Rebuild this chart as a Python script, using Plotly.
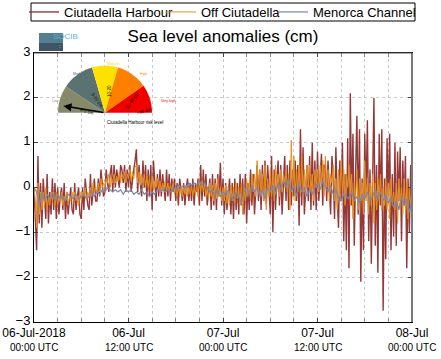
import math
import pandas as pd
import plotly.graph_objects as go

# ---------------- data (cm) ----------------
start = "2018-07-06 00:00"

# Ciutadella Harbour, 10-min samples, 06-Jul 00:00 -> 08-Jul 00:00
harbour = [
    0.0, -0.6, -1.4, 0.7, -0.8, 0.1,
    -0.9, 0.2, -0.3, -0.7, 0.3, -0.8,
    -0.1, -0.6, 0.2, -0.5, 0.1, -0.7,
    0.0, -0.6, -0.2, 0.0, -0.5, 0.1,
    -0.7, -0.1, -0.6, -0.3, 0.0, -0.5,
    -0.6, 0.1, -0.5, -0.2, 0.0, -0.6,
    -0.7, 0.0, -0.5, 0.2, -0.1, -0.4,
    -0.5, 0.3, -0.4, 0.0, 0.2, -0.3,
    -0.3, 0.2, -0.2, 0.4, 0.0, -0.2,
    -0.1, 0.4, 0.1, -0.1, 0.3, 0.5,
    -0.1, 0.5, 0.0, 0.4, 0.2, 0.0,
    0.5, 0.4, 0.1, 0.5, -0.1, 0.4,
    0.0, 0.5, -0.1, 0.2, 0.4, 0.6,
    0.85, -0.1, 0.5, 0.1, -0.2, 0.6,
    0.0, 0.5, -0.3, 0.4, -0.2, 0.5,
    -0.5, 0.6, 0.0, -0.3, 0.3, -0.2,
    0.4, -0.2, 0.3, 0.0, -0.3, 0.4,
    -0.2, 0.3, -0.3, 0.2, -0.1, 0.2,
    -0.3, 0.1, -0.4, 0.2, -0.1, -0.3,
    0.1, -0.4, 0.0, 0.2, -0.3, 0.1,
    -0.3, 0.2, -0.4, 0.1, -0.1, 0.2,
    -0.4, 0.5, -0.3, 0.4, -0.2, 0.3,
    -0.4, 0.0, 0.2, -0.5, 0.3, -0.4,
    0.2, -0.5, 0.3, -0.2, 0.55, -0.4,
    0.2, -0.6, 0.1, -0.5, -0.1, 0.2,
    -0.6, 0.1, -0.7, 0.2, -0.5, 0.1,
    -0.6, 0.3, -0.4, 0.2, -0.6, 0.3,
    -0.8, 0.1, -0.5, 0.4, -0.4, 0.3,
    -0.6, 0.0, 0.5, -0.3, 0.4, -0.5,
    0.5, -0.3, 0.6, -0.4, 0.5, 0.0,
    -0.6, 0.7, -1.0, 0.4, -0.5, 0.2,
    0.6, -0.4, 0.5, -0.6, 0.1, 0.7,
    -0.3, 0.5, -0.5, 0.6, -0.4, 0.4,
    -0.2, 0.6, -0.3, 0.5, -0.85, 1.3,
    -0.4, 0.9, -0.6, 0.1, 0.5, -0.3,
    0.7, -0.5, 1.0, -0.4, 0.6, -0.5,
    0.8, -0.3, 0.2, 0.75, -0.4, 0.5,
    0.5, -0.3, 0.6, 0.1, -0.6, 0.7,
    0.2, -0.7, 0.9, -0.2, -0.9, 0.6,
    -0.3, 1.0, -1.2, 0.3, -1.4, 1.1,
    -1.8, 2.1, -0.4, 1.2, -1.3, 0.3,
    1.6, -0.6, 1.3, -2.1, 0.2, -1.4,
    1.2, -0.2, 1.5, -1.2, 0.4, -1.7,
    0.6, 2.0, -1.3, 0.5, -1.9, 1.2,
    -0.4, 1.3, -2.75, 0.2, -1.6, 1.1,
    -0.2, 1.2, -1.4, 0.3, -1.1, 1.0,
    -1.3, 0.8, -0.3, 0.9, -1.2, 0.6,
    -0.4, 0.7, -1.8, 0.2, -1.0, 0.5,
    -0.6, 0.6, -0.2, 0.8, -1.3, 0.4,
    0.3,
]

# Off Ciutadella, 10-min samples
offshore = [
    0.0, -0.3, -0.9, 0.1, -0.6, -0.1,
    -0.5, -0.1, -0.4, 0.0, -0.5, -0.2,
    -0.4, -0.1, -0.3, -0.1, -0.4, -0.1,
    -0.4, -0.2, -0.3, -0.1, -0.4, -0.2,
    -0.3, -0.1, -0.4, -0.2, -0.3, -0.1,
    -0.3, -0.1, -0.3, -0.2, -0.4, -0.1,
    -0.3, -0.1, -0.2, 0.0, -0.3, -0.1,
    -0.2, 0.0, -0.2, 0.1, -0.1, 0.0,
    -0.1, 0.1, -0.1, 0.2, 0.0, 0.1,
    0.0, 0.2, 0.1, 0.3, 0.0, 0.2,
    0.1, 0.3, 0.1, 0.25, 0.15, 0.35,
    0.1, 0.3, 0.2, 0.35, 0.1, 0.3,
    0.2, 0.4, 0.15, 0.35, 0.2, 0.45,
    0.5, 0.1, 0.35, 0.05, 0.3, 0.1,
    0.3, 0.0, 0.25, 0.0, 0.2, -0.1,
    0.25, -0.05, 0.15, 0.0, 0.2, -0.05,
    0.15, -0.1, 0.1, 0.0, 0.15, -0.1,
    0.1, -0.1, 0.05, -0.05, 0.1, -0.15,
    0.0, -0.2, 0.05, -0.15, 0.0, -0.2,
    0.0, -0.15, 0.05, -0.2, 0.0, -0.15,
    0.05, -0.2, 0.0, -0.15, 0.05, -0.2,
    0.2, -0.1, 0.15, -0.1, 0.1, -0.2,
    0.0, -0.25, 0.1, -0.2, 0.05, -0.3,
    0.1, -0.25, 0.2, -0.2, 0.0, -0.3,
    0.0, -0.3, 0.05, -0.35, 0.0, -0.4,
    0.05, -0.3, 0.0, -0.35, 0.1, -0.25,
    0.0, -0.4, 0.1, -0.6, 0.0, -0.3,
    0.2, -0.2, 0.1, -0.3, 0.3, -0.1,
    0.3, -0.2, 0.6, -0.1, 0.4, -0.2,
    0.3, -0.3, 0.5, -0.5, 0.2, -0.2,
    0.4, -0.2, 0.3, -0.3, 0.5, -0.1,
    0.3, -0.2, 0.4, -0.1, 0.3, 0.0,
    0.4, -0.1, 0.3, -0.5, 1.05, -0.2,
    0.7, -0.3, 0.4, -0.1, 0.5, -0.2,
    0.7, -0.1, 0.4, -0.2, 0.5, 0.0,
    0.5, -0.1, 0.3, -0.3, 0.4, 0.0,
    0.4, -0.1, 0.5, 0.1, 0.6, -0.2,
    0.7, 0.0, 0.4, -0.3, 0.3, 0.1,
    0.5, -0.3, 0.2, -0.5, 0.4, -0.2,
    0.6, -0.1, 0.4, -0.4, 0.3, 0.0,
    0.5, -0.4, 0.3, -0.7, 0.1, -0.3,
    0.4, -0.5, 0.2, -0.3, 0.1, -0.6,
    0.6, -0.3, 0.2, -0.6, 0.1, -0.4,
    0.3, -0.8, 0.1, -0.5, 0.2, -0.3,
    0.3, -0.5, 0.0, -0.4, 0.2, -0.5,
    0.1, -0.7, 0.2, -0.4, -0.1, -0.5,
    0.1, -0.8, 0.2, -0.4, 0.0, -0.6,
    0.2, -0.5, 0.1, -0.7, 0.0, -0.4,
    -0.2,
]

# Menorca Channel, 20-min samples
channel = [
    0.0, -0.1, -0.4,
    -0.1, -0.3, -0.15,
    -0.25, -0.1, -0.3,
    -0.15, -0.25, -0.2,
    -0.3, -0.15, -0.2,
    -0.25, -0.15, -0.25,
    -0.2, -0.15, -0.25,
    -0.2, -0.1, -0.2,
    -0.1, -0.15, -0.05,
    -0.1, 0.0, -0.05,
    -0.1, -0.05, -0.1,
    -0.05, -0.15, -0.05,
    -0.1, -0.05, -0.15,
    -0.1, -0.15, -0.05,
    -0.15, -0.1, -0.2,
    -0.1, -0.15, -0.05,
    -0.1, -0.05, -0.1,
    -0.05, -0.1, 0.0,
    -0.05, 0.05, 0.0,
    0.05, 0.0, 0.1,
    0.05, 0.1, 0.05,
    0.15, 0.05, 0.1,
    0.0, -0.1, -0.05,
    -0.15, -0.05, -0.2,
    -0.1, -0.2, -0.05,
    -0.15, -0.3, -0.1,
    -0.2, -0.35, -0.1,
    0.0, -0.15, 0.05,
    -0.1, 0.0, -0.2,
    -0.05, -0.25, 0.0,
    -0.1, 0.05, -0.15,
    0.1, -0.05, 0.15,
    0.0, 0.2, -0.1,
    0.05, -0.2, 0.1,
    -0.1, 0.0, -0.2,
    -0.05, -0.15, 0.0,
    0.1, -0.05, 0.15,
    0.0, -0.1, 0.05,
    -0.15, -0.05, -0.25,
    -0.3, -0.15, -0.2,
    -0.25, -0.1, -0.3,
    -0.2, -0.35, -0.15,
    -0.25, -0.1, -0.3,
    -0.2, -0.05, -0.25,
    -0.1, -0.3, -0.15,
    -0.35, -0.2, -0.45,
    -0.3, -0.5, -0.2,
    -0.4, -0.25, -0.55,
    -0.3,
]

series_names = ["Ciutadella Harbour", "Off Ciutadella", "Menorca Channel"]
series_colors = ["#963838", "#e8901e", "#7d86a8"]

tick_dates = ["2018-07-06 00:00", "2018-07-06 12:00", "2018-07-07 00:00",
              "2018-07-07 12:00", "2018-07-08 00:00"]
tick_main = ["06-Jul-2018", "06-Jul", "07-Jul", "07-Jul", "08-Jul"]
tick_sub = ["00:00 UTC", "12:00 UTC", "00:00 UTC", "12:00 UTC", "00:00 UTC"]

gauge_colors = ["#878a6a", "#5b7272", "#ffe100", "#ff8000", "#f20000"]
gauge_edges = [180, 146, 106, 74, 35, 0]   # degrees
gauge_labels = ["Low", "Moderate", "Medium", "High", "Very high"]
gauge_ranges = ["0-5 cm", "5-10 cm", "10-20", "20-40 cm", ">40 cm"]

# ---------------- figure ----------------
W, H = 441, 359
ML, MR, MT, MB = 34, 29, 53, 37
PW, PH = W - ML - MR, H - MT - MB


def px(x):
    return (x - ML) / PW


def py(y):
    return (H - MB - y) / PH


t_h = pd.date_range(start, periods=len(harbour), freq="10min")
t_o = pd.date_range(start, periods=len(offshore), freq="10min")
t_c = pd.date_range(start, periods=len(channel), freq="20min")

FONT = "Liberation Sans, Arial, sans-serif"

fig = go.Figure()
widths = [1.4, 1.0, 1.2]
legend_ids = ["legend", "legend2", "legend3"]
legend_x = [24, 161, 273]     # left edge of each legend entry, px
for t, v, name, col, w, lid in zip([t_h, t_o, t_c],
                                   [harbour, offshore, channel],
                                   series_names, series_colors, widths,
                                   legend_ids):
    fig.add_trace(go.Scatter(x=t, y=v, mode="lines", name=name,
                             line=dict(color=col, width=w), legend=lid))

legend_layout = {}
for lid, lx in zip(legend_ids, legend_x):
    legend_layout[lid] = dict(
        orientation="h", xref="container", x=lx / W, xanchor="left",
        yref="container", y=1 - 12 / H, yanchor="middle",
        borderwidth=0, bgcolor="rgba(0,0,0,0)",
        font=dict(size=13, family=FONT, color="black"), itemwidth=30)

fig.update_layout(
    width=W, height=H,
    margin=dict(l=ML, r=MR, t=MT, b=MB, autoexpand=False),
    paper_bgcolor="white", plot_bgcolor="white",
    font=dict(family=FONT, color="black", size=12),
    title=dict(text="Sea level anomalies (cm)", x=0.5, xref="paper",
               y=1 - 36 / H, yanchor="middle", yref="container",
               font=dict(size=17, family=FONT, color="black")),
    showlegend=True,
    **legend_layout,
)

fig.update_xaxes(
    range=[tick_dates[0], tick_dates[-1]], automargin=False,
    tickvals=tick_dates, ticktext=tick_main,
    tickfont=dict(size=12, family=FONT),
    ticks="inside", ticklen=4, tickcolor="#444",
    showline=True, linecolor="black", linewidth=1, mirror="ticks",
    showgrid=True, gridcolor="#c8c8c8", griddash="dot", gridwidth=1,
    minor=dict(dtick=3 * 3600 * 1000, ticks="inside", ticklen=4,
               tickcolor="#888", showgrid=True, gridcolor="#c8c8c8",
               griddash="dot"),
    zeroline=False,
)
fig.update_yaxes(
    range=[-3, 3], dtick=1, automargin=False,
    tickfont=dict(size=13, family=FONT), ticklabelshift=-2,
    ticks="inside", ticklen=4, tickcolor="#444",
    showline=True, linecolor="black", linewidth=1, mirror="ticks",
    showgrid=True, gridcolor="#c8c8c8", griddash="dot", gridwidth=1,
    zeroline=False,
)

shapes = []
annotations = []

# legend frame
shapes.append(dict(type="rect", xref="paper", yref="paper",
                   x0=px(31), x1=px(415), y0=py(21), y1=py(3),
                   line=dict(color="black", width=1),
                   fillcolor="rgba(0,0,0,0)", layer="below"))

# right / top borders
shapes.append(dict(type="line", xref="paper", yref="paper", x0=1, x1=1,
                   y0=0, y1=1, line=dict(color="#7a7a7a", width=2)))
shapes.append(dict(type="line", xref="paper", yref="paper", x0=0, x1=1,
                   y0=1, y1=1, line=dict(color="#555", width=1)))

# second line of the x tick labels
for d, s in zip(tick_dates, tick_sub):
    annotations.append(dict(x=d, xref="x", y=py(340.5), yref="paper",
                            text=s, showarrow=False, xanchor="center",
                            yanchor="top", borderpad=0,
                            font=dict(size=10, family=FONT, color="black")))

# SOCIB logo
shapes.append(dict(type="rect", xref="paper", yref="paper",
                   x0=px(39), x1=px(63), y0=py(51), y1=py(33),
                   fillcolor="#557f90", line=dict(width=0)))
shapes.append(dict(type="rect", xref="paper", yref="paper",
                   x0=px(39), x1=px(63), y0=py(51), y1=py(43),
                   fillcolor="#3d5565", line=dict(width=0)))
annotations.append(dict(x=px(51), y=py(29.5), xref="paper", yref="paper",
                        text="SOCIB", showarrow=False,
                        font=dict(size=8, family=FONT, color="#5bb6cf")))
annotations.append(dict(x=px(57), y=py(41), xref="paper", yref="paper",
                        text=":<br>:", showarrow=False,
                        font=dict(size=5, family=FONT, color="white")))

# gauge
cx, cy, R = 105, 112.7, 47
for i, col in enumerate(gauge_colors):
    a0, a1 = gauge_edges[i], gauge_edges[i + 1]
    n = 16
    pts = [(cx, cy)]
    for k in range(n + 1):
        a = math.radians(a0 + (a1 - a0) * k / n)
        pts.append((cx + R * math.cos(a), cy - R * math.sin(a)))
    path = "M " + " L ".join(f"{px(x):.5f},{py(y):.5f}" for x, y in pts) + " Z"
    shapes.append(dict(type="path", xref="paper", yref="paper", path=path,
                       fillcolor=col, line=dict(width=0)))
    amid = math.radians((a0 + a1) / 2)
    lx = cx + (R + 10) * math.cos(amid)
    ly = cy - (R + 6) * math.sin(amid)
    annotations.append(dict(x=px(lx), y=py(ly), xref="paper", yref="paper",
                            text=gauge_labels[i], showarrow=False,
                            font=dict(size=3.5, family=FONT, color=col)))
    ix = cx + R * 0.62 * math.cos(amid)
    iy = cy - R * 0.62 * math.sin(amid)
    mid = (a0 + a1) / 2
    ang = -mid if mid <= 90 else 180 - mid
    annotations.append(dict(x=px(ix), y=py(iy), xref="paper", yref="paper",
                            text=gauge_ranges[i],
                            showarrow=False, textangle=ang,
                            font=dict(size=4.5, family=FONT, color="black")))

annotations.append(dict(x=px(105), y=py(117.5), xref="paper", yref="paper",
                        text="Ciutadella Harbour risk level", showarrow=False,
                        font=dict(size=4.5, family=FONT, color="black")))
# needle
annotations.append(dict(x=px(63.5), y=py(106), xref="paper", yref="paper",
                        ax=cx - 63.5, ay=cy - 106, axref="pixel",
                        ayref="pixel", text="", showarrow=True,
                        arrowhead=2, arrowsize=1, arrowwidth=1.6,
                        arrowcolor="black"))

fig.update_layout(shapes=shapes, annotations=annotations)
fig.write_html("out.html", config={"displayModeBar": False},
               post_script="document.body.style.margin='0';")
